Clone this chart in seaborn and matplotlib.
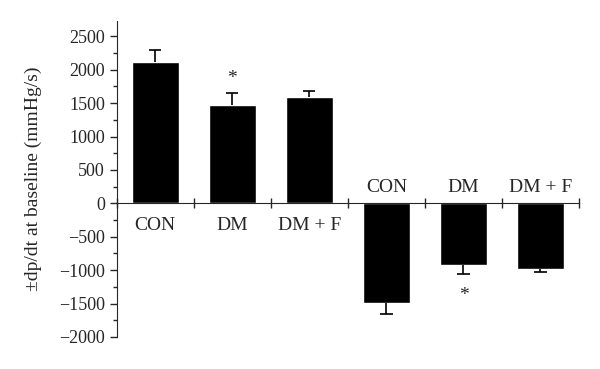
import numpy as np
import pandas as pd
import matplotlib
matplotlib.use("Agg")
import matplotlib.pyplot as plt
from matplotlib.ticker import MultipleLocator
import seaborn as sns

# data
categories = ["CON", "DM", "DM + F", "CON", "DM", "DM + F"]
values = [2110, 1470, 1590, -1490, -920, -990]
errors = [190, 175, 90, 165, 135, 45]
significant = [False, True, False, False, True, False]

sns.set_style("ticks")
plt.rcParams["font.family"] = ["Liberation Serif", "DejaVu Serif"]

df = pd.DataFrame({"slot": range(len(values)), "value": values})

fig = plt.figure(figsize=(6, 3.69), dpi=100)
ax = fig.add_axes([0.1945, 0.087, 0.7705, 0.856])

sns.barplot(data=df, x="slot", y="value", color="black", width=0.61,
            saturation=1, errorbar=None, ax=ax)

# one-sided error bars pointing away from zero, cap only at the tip
cap = 0.08
for i, (v, e) in enumerate(zip(values, errors)):
    tip = v + np.sign(v) * e
    ax.vlines(i, v, tip, color="black", lw=1.2)
    ax.hlines(tip, i - cap, i + cap, color="black", lw=1.2)
    if significant[i]:
        off = 230 if v > 0 else -330
        ax.text(i, tip + off, "*", ha="center", va="center", fontsize=14)
    # group labels on the opposite side of the zero line
    if v > 0:
        ax.text(i, -200, categories[i], ha="center", va="top", fontsize=14)
    else:
        ax.text(i, 110, categories[i], ha="center", va="bottom", fontsize=14)

ax.set_xlim(-0.5, 5.5)
ax.set_ylim(-2000, 2730)
ax.set_xticks(np.arange(-0.5, 6, 1))
ax.set_xticklabels([])
ax.tick_params(axis="x", direction="inout", length=7, width=1)
ax.spines["bottom"].set_position(("data", 0))
ax.spines["top"].set_visible(False)
ax.spines["right"].set_visible(False)

yticks = np.arange(-2000, 2501, 500)
ax.yaxis.set_minor_locator(MultipleLocator(250))
ax.set_yticks(yticks)
ax.set_yticklabels([f"{int(t)}".replace("-", "\u2212") for t in yticks])
ax.tick_params(axis="y", which="major", direction="out", length=5, width=1, labelsize=13)
ax.tick_params(axis="y", which="minor", direction="out", length=3, width=1)
ax.spines["left"].set_bounds(-2000, 2730)

ax.set_xlabel("")
ax.set_ylabel("\u00b1dp/dt at baseline (mmHg/s)", fontsize=14, labelpad=12)

fig.savefig("out.png", dpi=100)
